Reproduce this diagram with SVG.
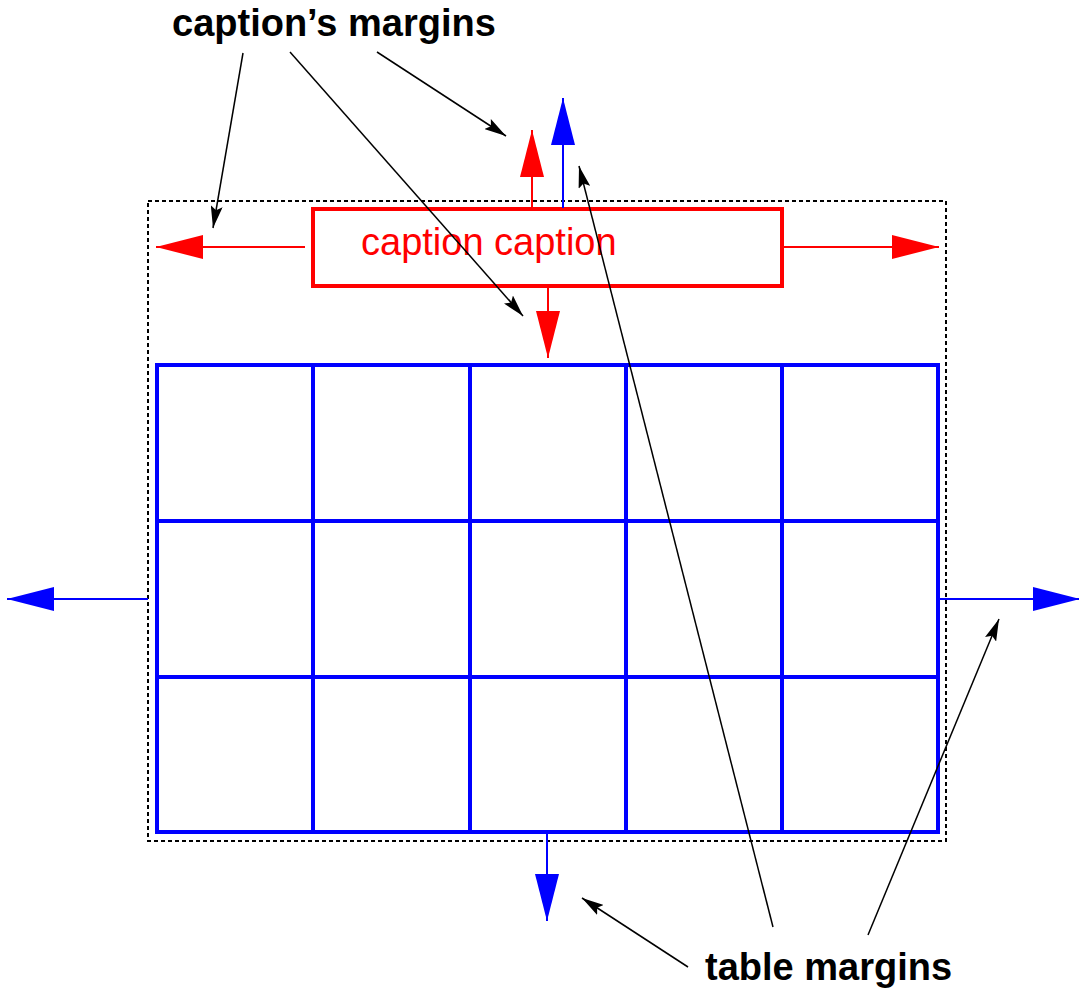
<svg xmlns="http://www.w3.org/2000/svg" width="1079" height="993" viewBox="0 0 1079 993">
<style>
.lbl{font-family:"Liberation Sans",Arial,sans-serif;font-size:38px;font-weight:bold;fill:#000}
.cap{font-family:"Liberation Sans",Arial,sans-serif;font-size:38px;fill:#ff0000}
.red{stroke:#ff0000;stroke-width:2;fill:none}
.blue{stroke:#0000ff;stroke-width:2;fill:none}
.blk{stroke:#000;stroke-width:1.5;fill:none}
.grid{stroke:#0000ff;stroke-width:4;fill:none}
</style>
<defs>
<marker id="ar" markerUnits="userSpaceOnUse" viewBox="0 0 47 24" markerWidth="47" markerHeight="24" refX="47" refY="12" orient="auto"><path d="M0,0 L47,12 L0,24 z" fill="#ff0000"/></marker>
<marker id="ab" markerUnits="userSpaceOnUse" viewBox="0 0 47 24" markerWidth="47" markerHeight="24" refX="47" refY="12" orient="auto"><path d="M0,0 L47,12 L0,24 z" fill="#0000ff"/></marker>
<marker id="ak" markerUnits="userSpaceOnUse" viewBox="0 0 22 12" markerWidth="22" markerHeight="12" refX="22" refY="6" orient="auto"><path d="M0,0 L22,6 L0,12 L4,6 z" fill="#000"/></marker>
</defs>
<rect width="1079" height="993" fill="#fff"/>
<g id="container">
<rect x="148" y="201" width="798" height="640" fill="none" stroke="#000" stroke-width="2" stroke-dasharray="4,3"/>
</g>
<g id="table">
<rect class="grid" x="157" y="365" width="781" height="467"/>
<path class="grid" d="M313,365 V832 M470,365 V832 M626,365 V832 M782,365 V832 M157,521 H938 M157,677 H938"/>
</g>
<g id="caption">
<rect x="313" y="209" width="469" height="77" fill="none" stroke="#ff0000" stroke-width="4"/>
<text class="cap" x="361" y="255">caption caption</text>
</g>
<g id="label-caption-margins"><text class="lbl" x="172" y="36">caption’s margins</text></g>
<g id="label-table-margins"><text class="lbl" x="705" y="980">table margins</text></g>
<g id="connectors">
<line class="red" x1="305" y1="247" x2="156" y2="247" marker-end="url(#ar)"/>
<line class="red" x1="782" y1="247" x2="939" y2="247" marker-end="url(#ar)"/>
<line class="red" x1="532" y1="209" x2="532" y2="130" marker-end="url(#ar)"/>
<line class="red" x1="548" y1="286" x2="548" y2="358" marker-end="url(#ar)"/>
<line class="blue" stroke-width="2.5" x1="563" y1="208" x2="563" y2="98" marker-end="url(#ab)"/>
<line class="blue" x1="148" y1="599" x2="7" y2="599" marker-end="url(#ab)"/>
<line class="blue" x1="938" y1="599" x2="1080" y2="599" marker-end="url(#ab)"/>
<line class="blue" x1="547" y1="832" x2="547" y2="921" marker-end="url(#ab)"/>
<line class="blk" x1="243" y1="53" x2="213" y2="228" marker-end="url(#ak)"/>
<line class="blk" x1="290" y1="52" x2="523" y2="316" marker-end="url(#ak)"/>
<line class="blk" x1="377" y1="52" x2="506" y2="136" marker-end="url(#ak)"/>
<line class="blk" x1="773" y1="927" x2="579" y2="166" marker-end="url(#ak)"/>
<line class="blk" x1="868" y1="935" x2="999" y2="619" marker-end="url(#ak)"/>
<line class="blk" x1="688" y1="967" x2="582" y2="898" marker-end="url(#ak)"/>
</g>
</svg>
